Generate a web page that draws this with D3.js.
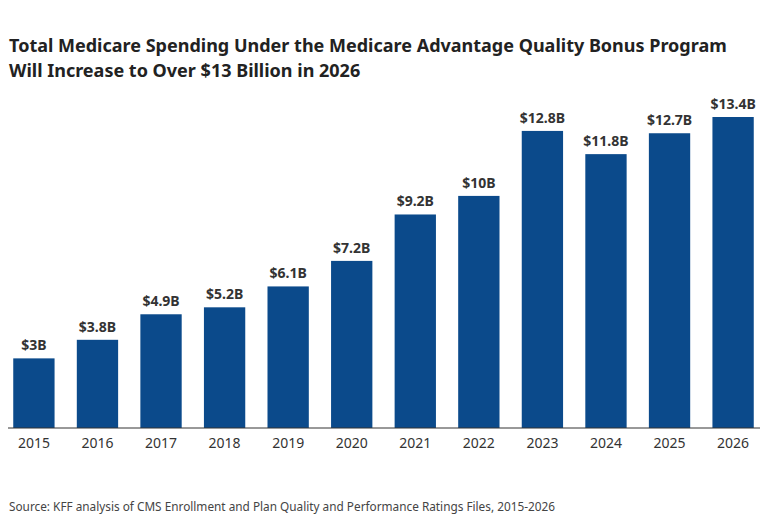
<!DOCTYPE html>
<html><head><meta charset="utf-8">
<script src="https://cdn.jsdelivr.net/npm/d3@7"></script>
<style>body{margin:0;background:#fff;font-family:"Noto Sans",sans-serif}</style>
</head><body>
<script>
var years = ['2015','2016','2017','2018','2019','2020','2021','2022','2023','2024','2025','2026'];
var spending = [3, 3.8, 4.9, 5.2, 6.1, 7.2, 9.2, 10, 12.8, 11.8, 12.7, 13.4];
var labels = ['$3B','$3.8B','$4.9B','$5.2B','$6.1B','$7.2B','$9.2B','$10B','$12.8B','$11.8B','$12.7B','$13.4B'];

var W = 768, H = 521;
var svg = d3.select('body').append('svg').attr('width', W).attr('height', H);

// title
var title = svg.append('text').attr('x', 9).attr('font-weight', 'bold').attr('font-size', 18).attr('fill', '#222');
title.append('tspan').attr('x', 9).attr('y', 52).text('Total Medicare Spending Under the Medicare Advantage Quality Bonus Program');
title.append('tspan').attr('x', 9).attr('y', 77).text('Will Increase to Over $13 Billion in 2026');

var x = d3.scaleBand().domain(years).range([-9, 776]).padding(0.35);
var y = d3.scaleLinear().domain([0, 13.4]).range([428, 117]);

svg.selectAll('rect.bar').data(spending).enter().append('rect')
    .attr('class', 'bar')
    .attr('x', function(d, i){ return x(years[i]); })
    .attr('width', x.bandwidth())
    .attr('y', function(d){ return y(d); })
    .attr('height', function(d){ return y(0) - y(d); })
    .attr('fill', '#0b4a8b');

svg.selectAll('text.lbl').data(spending).enter().append('text')
    .attr('class', 'lbl')
    .attr('x', function(d, i){ return x(years[i]) + x.bandwidth() / 2; })
    .attr('y', function(d){ return y(d) - 8; })
    .attr('text-anchor', 'middle').attr('font-size', 14).attr('font-weight', 'bold').attr('fill', '#333')
    .text(function(d, i){ return labels[i]; });

var ax = svg.append('g').attr('transform', 'translate(0,428)')
    .call(d3.axisBottom(x).tickSize(0).tickPadding(10));
ax.select('.domain').attr('stroke', '#333').attr('d', 'M8,0H760');
ax.selectAll('text').attr('font-size', 14).attr('fill', '#333').attr('font-family', '"Noto Sans",sans-serif');

svg.append('text').attr('x', 9).attr('y', 511).attr('font-size', 11.8).attr('fill', '#444')
    .text('Source: KFF analysis of CMS Enrollment and Plan Quality and Performance Ratings Files, 2015-2026');
</script>
</body></html>
